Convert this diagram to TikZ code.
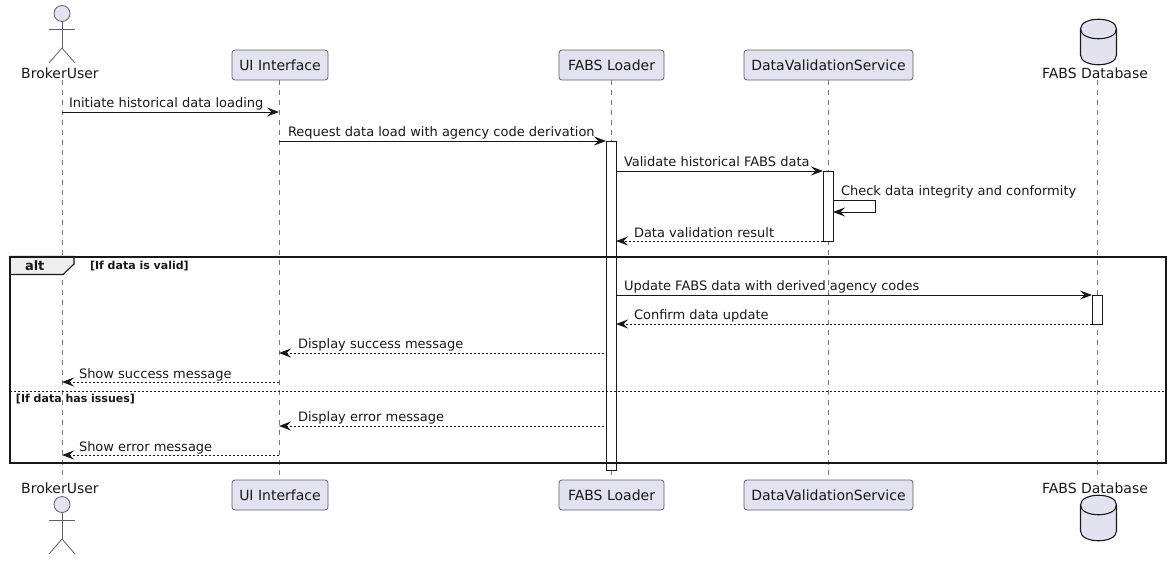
\documentclass[tikz,border=0pt]{standalone}
\usepackage{fontspec}
\setmainfont{DejaVu Sans}
\usetikzlibrary{arrows.meta,shapes.geometric}
\definecolor{partfill}{HTML}{E2E2F0}
\definecolor{partline}{HTML}{5E5E6E}
\definecolor{lifegray}{HTML}{777777}
\definecolor{ink}{HTML}{181818}
\definecolor{tabfill}{HTML}{EEEEEE}
\tikzset{
  x=1pt,y=-1pt,
  every node/.style={inner sep=0pt,outer sep=0pt,text=ink,font=\fontsize{13}{15}\selectfont},
  partlabel/.style={font=\fontsize{14}{16}\selectfont},
  lifeline/.style={draw=lifegray,line width=0.7pt,dash pattern=on 5pt off 5pt},
  partbox/.style={partlabel,draw=partline,fill=partfill,rounded corners=3pt,line width=0.8pt,minimum height=30pt,anchor=center},
  actorline/.style={draw=partline,line width=0.8pt},
  msg/.style={draw=ink,line width=0.9pt,-{Stealth[length=12pt,width=9pt,inset=4.5pt]}},
  ret/.style={msg,dash pattern=on 2pt off 2pt},
  msgtext/.style={anchor=base west},
  bar/.style={draw=ink,fill=white,line width=0.9pt},
  altframe/.style={draw=ink,line width=2pt},
  guard/.style={anchor=base west,font=\bfseries\fontsize{11}{13}\selectfont},
  dbshape/.style={draw=ink,fill=partfill,line width=1.1pt},
}
\newcommand{\actorfig}[2]{%
  \draw[actorline,fill=partfill] (#1,#2+13.5) circle[radius=8];
  \draw[actorline] (#1,#2+21.5) -- (#1,#2+48);
  \draw[actorline] (#1-13,#2+29) -- (#1+13,#2+29);
  \draw[actorline] (#1-13,#2+63) -- (#1,#2+48) -- (#1+13,#2+63);
}
\newcommand{\dbfig}[2]{%
  \draw[dbshape] (#1-18,#2+10) .. controls (#1-18,#2-3) and (#1+18,#2-3) .. (#1+18,#2+10)
    -- (#1+18,#2+36) .. controls (#1+18,#2+49) and (#1-18,#2+49) .. (#1-18,#2+36) -- cycle;
  \draw[dbshape,fill=none] (#1-18,#2+10) .. controls (#1-18,#2+23) and (#1+18,#2+23) .. (#1+18,#2+10);
}
\begin{document}
\begin{tikzpicture}
\useasboundingbox (0,0) rectangle (1170,560);
% lifeline anchors
\coordinate (bu1) at (62,80);  \coordinate (bu2) at (62,478);
\coordinate (ui1) at (279,80); \coordinate (ui2) at (279,478);
\coordinate (fl1) at (611,80); \coordinate (fl2) at (611,478);
\coordinate (dv1) at (828,80); \coordinate (dv2) at (828,478);
\coordinate (db1) at (1097,80);\coordinate (db2) at (1097,478);
\draw[lifeline] (bu1) -- (bu2);
\draw[lifeline] (ui1) -- (ui2);
\draw[lifeline] (fl1) -- (fl2);
\draw[lifeline] (dv1) -- (dv2);
\draw[lifeline] (db1) -- (db2);
% participants
\actorfig{62}{0}
\node[partlabel] (butop) at (60,73) {BrokerUser};
\node[partbox,minimum width=96pt] (uitop) at (280,65) {UI Interface};
\node[partbox,minimum width=105pt] (fltop) at (611.5,65) {FABS Loader};
\node[partbox,minimum width=169pt] (dvtop) at (828.5,65) {DataValidationService};
\dbfig{1098.5}{19}
\node[partlabel] (dbtop) at (1095,73) {FABS Database};
\actorfig{62}{491}
\node[partlabel] (bubot) at (60,488) {BrokerUser};
\node[partbox,minimum width=96pt] (uibot) at (280,495) {UI Interface};
\node[partbox,minimum width=105pt] (flbot) at (611.5,495) {FABS Loader};
\node[partbox,minimum width=169pt] (dvbot) at (828.5,495) {DataValidationService};
\dbfig{1098.5}{495}
\node[partlabel] (dbbot) at (1095,488) {FABS Database};
% activation bars
\node[bar,minimum width=10pt,minimum height=329pt] (fabsbar) at (611,305.5) {};
\node[bar,minimum width=10pt,minimum height=70pt] (dvbar) at (828,206) {};
\node[bar,minimum width=10pt,minimum height=29pt] (dbbar) at (1097,309.5) {};
% alt frame
\draw[altframe] (10,256.5) rectangle (1166,463);
\draw[draw=ink,line width=1.1pt,fill=tabfill] (10,256.5) -- (74,256.5) -- (74,264) -- (63,274.5) -- (10,274.5) -- cycle;
\draw[altframe] (10,256.5) -- (74,256.5);
\draw[altframe] (10,256.5) -- (10,274.5);
\draw[draw=ink,line width=0.8pt,dash pattern=on 2pt off 2pt] (10,391) -- (1166,391);
\node[anchor=base west,font=\bfseries\fontsize{13}{15}\selectfont] (alttag) at (25,270) {alt};
\node[guard] (g1) at (90,269) {[If data is valid]};
\node[guard] (g2) at (16,402) {[If data has issues]};
% message endpoints
\coordinate (a1) at (62,112);  \coordinate (b1) at (279,112);
\coordinate (a2) at (279,141); \coordinate (b2) at (606,141);
\coordinate (a3) at (616,171); \coordinate (b3) at (823,171);
\coordinate (a4) at (833,200); \coordinate (b4) at (875,200); \coordinate (c4) at (875,212); \coordinate (d4) at (833,212);
\coordinate (a5) at (823,241); \coordinate (b5) at (616,241);
\coordinate (a6) at (616,295); \coordinate (b6) at (1092,295);
\coordinate (a7) at (1092,324);\coordinate (b7) at (616,324);
\coordinate (a8) at (604,353); \coordinate (b8) at (279,353);
\coordinate (a9) at (279,382); \coordinate (b9) at (62,382);
\coordinate (a10) at (604,426);\coordinate (b10) at (279,426);
\coordinate (a11) at (279,455);\coordinate (b11) at (62,455);
\draw[msg] (a1) -- (b1);
\draw[msg] (a2) -- (b2);
\draw[msg] (a3) -- (b3);
\draw[msg] (a4) -- (b4) -- (c4) -- (d4);
\draw[ret] (a5) -- (b5);
\draw[msg] (a6) -- (b6);
\draw[ret] (a7) -- (b7);
\draw[ret] (a8) -- (b8);
\draw[ret] (a9) -- (b9);
\draw[ret] (a10) -- (b10);
\draw[ret] (a11) -- (b11);
% message labels
\node[msgtext] (t1) at (69,107) {Initiate historical data loading};
\node[msgtext] (t2) at (288,136) {Request data load with agency code derivation};
\node[msgtext] (t3) at (624,166) {Validate historical FABS data};
\node[msgtext] (t4) at (841,195) {Check data integrity and conformity};
\node[msgtext] (t5) at (634,237) {Data validation result};
\node[msgtext] (t6) at (624,290) {Update FABS data with derived agency codes};
\node[msgtext] (t7) at (634,319) {Confirm data update};
\node[msgtext] (t8) at (298,348) {Display success message};
\node[msgtext] (t9) at (79,378) {Show success message};
\node[msgtext] (t10) at (298,421) {Display error message};
\node[msgtext] (t11) at (79,451) {Show error message};
\end{tikzpicture}
\end{document}
